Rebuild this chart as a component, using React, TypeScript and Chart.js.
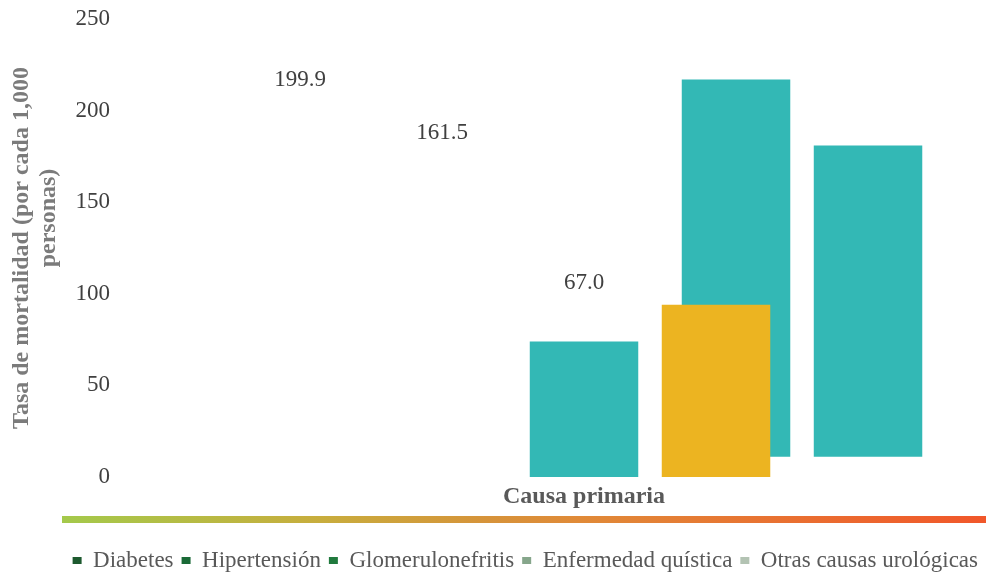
import React, { useEffect, useRef } from "react";
import { Chart, registerables } from "chart.js";

Chart.register(...registerables);

// ---- data ----
const categories = ["", "Diabetes", "Hipertensión", "Glomerulonefritis", "Enfermedad quística", "Otras causas urológicas", ""];
const orangeBars: (number[] | null)[] = [null, null, null, null, [0, 94], null, null];
const tealGroupBars: (number[] | null)[] = [null, null, null, null, [11, 217], null, null];
const tealBars: (number[] | null)[] = [null, null, null, [0, 74], null, [11, 181], null];
const labelTexts = ["", "199.9", "161.5", "67.0", "", "", ""];
const labelAnchors: (number | null)[] = [null, 217, 188, 106, null, null, null];
const yTicks = [0, 50, 100, 150, 200, 250];
const legendNames = ["Diabetes", "Hipertensión", "Glomerulonefritis", "Enfermedad quística", "Otras causas urológicas"];
const legendColors = ["#1d5a2f", "#1a6a37", "#217a3e", "#86a68b", "#b3c3b3"];
const yTitle = ["Tasa de mortalidad (por cada 1,000", "\u00A0".repeat(10) + "personas)"];
const xTitle = "Causa primaria";

// ---- styles ----
const FONT = "'Liberation Serif', 'Times New Roman', Times, serif";
const TEAL = "#33b8b5";
const ORANGE = "#ecb421";
const X_EXTEND = 1.1057;

const extendX = {
  id: "extendX",
  afterLayout(chart: any) {
    const x = chart.scales.x;
    x.right = x.left + (x.right - x.left) * X_EXTEND;
    x.width = x.right - x.left;
    x.configure();
  },
};

const valueLabels = {
  id: "valueLabels",
  afterDatasetsDraw(chart: any) {
    const { ctx, scales } = chart;
    ctx.save();
    ctx.font = `23px ${FONT}`;
    ctx.fillStyle = "#404040";
    ctx.textAlign = "center";
    ctx.textBaseline = "middle";
    labelTexts.forEach((t, i) => {
      const v = labelAnchors[i];
      if (!t || v == null) return;
      ctx.fillText(t, scales.x.getPixelForValue(i), scales.y.getPixelForValue(v));
    });
    ctx.restore();
  },
};

const gradientBand = {
  id: "gradientBand",
  afterDraw(chart: any) {
    const { ctx } = chart;
    const x0 = 62;
    const x1 = chart.width;
    const y0 = chart.scales.x.bottom - 25;
    const g = ctx.createLinearGradient(x0, 0, x1, 0);
    g.addColorStop(0, "#a4c94b");
    g.addColorStop(0.28, "#c8ad3d");
    g.addColorStop(0.46, "#d6933a");
    g.addColorStop(0.56, "#e08a38");
    g.addColorStop(1, "#f1572a");
    ctx.save();
    ctx.fillStyle = g;
    ctx.fillRect(x0, y0, x1 - x0, 7);
    ctx.restore();
  },
};

export default function App() {
  const ref = useRef<HTMLCanvasElement | null>(null);
  useEffect(() => {
    if (!ref.current) return;
    const chart = new Chart(ref.current, {
      type: "bar",
      data: {
        labels: categories,
        datasets: [
          {
            label: "A",
            data: orangeBars as any,
            backgroundColor: ORANGE,
            borderWidth: 0,
            barPercentage: 5.425,
            categoryPercentage: 0.2817,
            skipNull: true,
          } as any,
          {
            label: "B",
            data: tealGroupBars as any,
            backgroundColor: TEAL,
            borderWidth: 0,
            barPercentage: 5.425,
            categoryPercentage: 0.2817,
            skipNull: true,
          } as any,
          {
            label: "C",
            data: tealBars as any,
            backgroundColor: TEAL,
            borderWidth: 0,
            barPercentage: 0.764,
            categoryPercentage: 1,
            skipNull: true,
          } as any,
        ],
      },
      options: {
        animation: false,
        responsive: false,
        layout: { padding: { left: 0, right: 0, top: 19, bottom: -9 } },
        plugins: {
          legend: {
            position: "bottom",
            align: "end",
            onClick: () => {},
            labels: {
              boxWidth: 9,
              boxHeight: 7,
              padding: 8,
              color: "#595959",
              font: { family: FONT, size: 23 },
              generateLabels: () =>
                legendNames.map((t, i) => ({
                  text: t,
                  fillStyle: legendColors[i],
                  strokeStyle: legendColors[i],
                  lineWidth: 0,
                  hidden: false,
                  fontColor: "#595959",
                })) as any,
            },
          },
          tooltip: { enabled: false },
        },
        scales: {
          x: {
            grid: { display: false, drawTicks: false },
            border: { display: false },
            ticks: { display: false },
            title: {
              display: true,
              text: xTitle,
              color: "#595959",
              font: { family: FONT, size: 24, weight: "bold", lineHeight: 1.2 },
              padding: { top: 0, bottom: 30 },
            },
            afterFit: (s: any) => {
              s.height = 64;
            },
          },
          y: {
            min: 0,
            max: 250,
            grid: { display: false, drawTicks: false },
            border: { display: false },
            afterBuildTicks: (s: any) => {
              s.ticks = yTicks.map((v) => ({ value: v }));
            },
            ticks: {
              mirror: true,
              crossAlign: "far",
              padding: -11.5,
              color: "#404040",
              font: { family: FONT, size: 23 },
            },
            title: {
              display: true,
              text: yTitle,
              color: "#7b7b7b",
              font: { family: FONT, size: 24, weight: "bold", lineHeight: 1.125 },
              padding: { top: 8.5, bottom: 0 },
            },
            afterFit: (s: any) => {
              s.width = 87;
            },
          },
        },
      } as any,
      plugins: [extendX, valueLabels, gradientBand],
    });
    return () => chart.destroy();
  }, []);
  return (
    <div style={{ position: "fixed", left: 0, top: 0, width: 986, height: 573, background: "#fff" }}>
      <canvas ref={ref} width={986} height={573} style={{ display: "block" }} />
    </div>
  );
}
